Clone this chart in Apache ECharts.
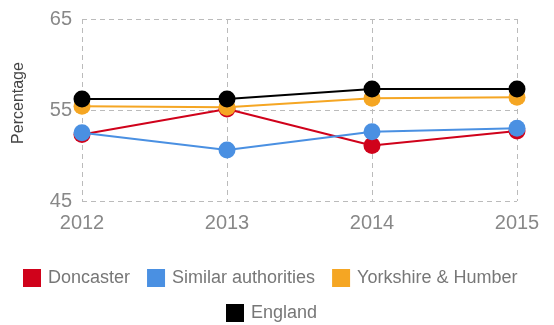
<!DOCTYPE html>
<html>
<head>
<meta charset="utf-8">
<script src="https://cdn.jsdelivr.net/npm/echarts@6/dist/echarts.min.js"></script>
<style>
  html, body { margin: 0; padding: 0; background: #fff; }
  #chart { width: 554px; height: 325px; }
</style>
</head>
<body>
<div id="chart"></div>
<script>
// Years on the x axis
const years = ['2012', '2013', '2014', '2015'];

// Percentage values per area
const doncaster = [52.3, 55.1, 51.1, 52.7];
const similarAuthorities = [52.5, 50.6, 52.6, 53.0];
const yorkshireHumber = [55.4, 55.3, 56.3, 56.4];
const england = [56.2, 56.2, 57.3, 57.3];

const seriesNames = ['Doncaster', 'Similar authorities', 'Yorkshire & Humber', 'England'];
const seriesColors = ['#d0021b', '#4a90e2', '#f5a623', '#000000'];
const seriesValues = [doncaster, similarAuthorities, yorkshireHumber, england];

const font = '"Liberation Sans", Arial, sans-serif';
const chart = echarts.init(document.getElementById('chart'));

const dashed = { color: '#bbbbbb', type: [5, 4], width: 1 };

// Two legend rows
const legendBase = {
  itemWidth: 18,
  itemHeight: 18,
  itemGap: 17,
  icon: 'rect',
  padding: 0,
  textStyle: { color: '#777', fontSize: 18, fontFamily: font, padding: [0, 0, 0, 2] }
};

chart.setOption({
  animation: false,
  textStyle: { fontFamily: font },
  grid: { left: 82, right: 37, top: 19, bottom: 124, containLabel: false },
  legend: [
    Object.assign({ left: 23, top: 269, data: seriesNames.slice(0, 3) }, legendBase),
    Object.assign({ left: 226, top: 304, data: seriesNames.slice(3) }, legendBase)
  ],
  xAxis: {
    type: 'category',
    data: years,
    boundaryGap: false,
    axisLine: { show: false },
    axisTick: { show: false },
    axisLabel: { color: '#888', fontSize: 20, margin: 12, fontFamily: font },
    splitLine: { show: true, lineStyle: dashed }
  },
  yAxis: {
    type: 'value',
    min: 45,
    max: 65,
    interval: 10,
    name: 'Percentage',
    nameLocation: 'middle',
    nameGap: 55,
    nameRotate: 90,
    nameTextStyle: { color: '#444', fontSize: 16, fontFamily: font, padding: [0, 0, 0, 14] },
    axisLine: { show: false },
    axisTick: { show: false },
    axisLabel: { color: '#888', fontSize: 20, margin: 10, fontFamily: font },
    splitLine: { show: true, lineStyle: dashed }
  },
  series: seriesNames.map((name, i) => ({
    name: name,
    type: 'line',
    data: seriesValues[i],
    symbol: 'circle',
    symbolSize: 17,
    z: 2 + i,
    itemStyle: { color: seriesColors[i] },
    lineStyle: { color: seriesColors[i], width: 2 }
  }))
});
</script>
</body>
</html>
